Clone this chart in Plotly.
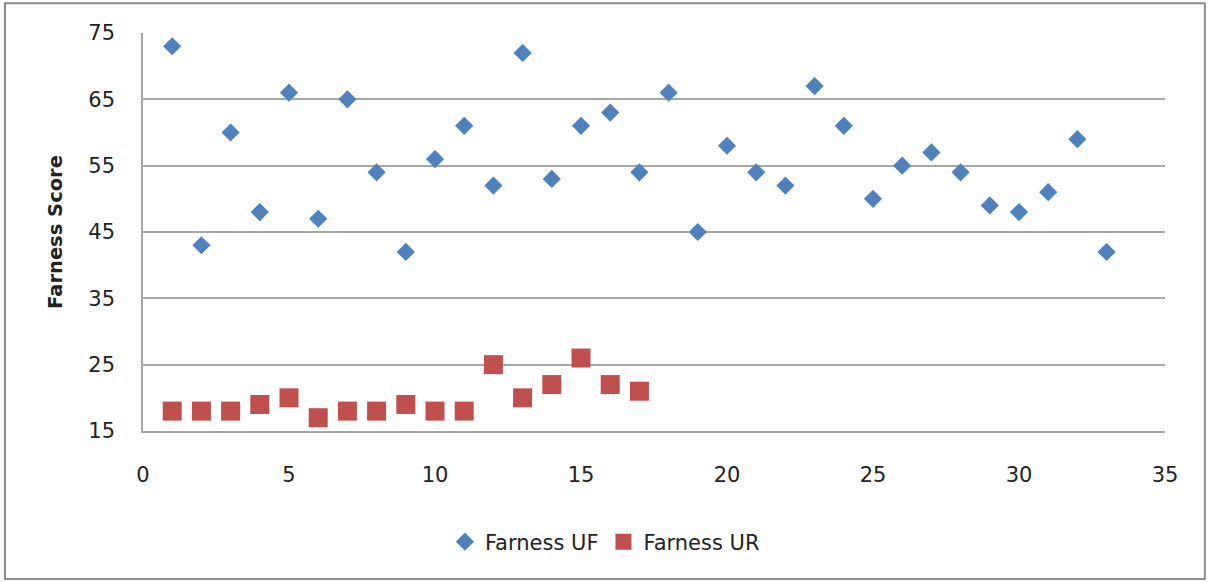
import plotly.graph_objects as go

# Farness scores per item
uf_x = list(range(1, 34))
uf_y = [73, 43, 60, 48, 66, 47, 65, 54, 42, 56, 61, 52, 72, 53, 61, 63, 54,
        66, 45, 58, 54, 52, 67, 61, 50, 55, 57, 54, 49, 48, 51, 59, 42]

ur_x = list(range(1, 18))
ur_y = [18, 18, 18, 19, 20, 17, 18, 18, 19, 18, 18, 25, 20, 22, 26, 22, 21]

x_ticks = [0, 5, 10, 15, 20, 25, 30, 35]
y_ticks = [15, 25, 35, 45, 55, 65, 75]

FONT = "'DejaVu Sans', sans-serif"
GRID = "#a6a6a6"

fig = go.Figure()
fig.add_trace(go.Scatter(
    x=uf_x, y=uf_y, mode="markers", name="Farness UF",
    marker=dict(symbol="diamond", size=14, color="#4F81BD",
                line=dict(width=0)),
))
fig.add_trace(go.Scatter(
    x=ur_x, y=ur_y, mode="markers", name="Farness UR",
    marker=dict(symbol="square", size=19, color="#C0504D",
                line=dict(width=0)),
))

# Outer chart frame
fig.add_shape(type="rect", xref="paper", yref="paper",
              x0=-0.135, x1=1.039, y0=-0.372, y1=1.075,
              line=dict(color="#8c8c8c", width=2), fillcolor="rgba(0,0,0,0)",
              layer="below")

fig.update_layout(
    width=1208, height=582,
    margin=dict(l=143, r=43, t=33, b=151),
    paper_bgcolor="white", plot_bgcolor="white",
    font=dict(family=FONT, size=21, color="#222222"),
    showlegend=True,
    legend=dict(orientation="h", x=0.452, xanchor="center", y=-0.279,
                yanchor="middle", font=dict(size=21), itemwidth=30,
                tracegroupgap=0),
    xaxis=dict(range=[0, 35], tickvals=x_ticks, showgrid=False, zeroline=False,
               showline=True, linecolor=GRID, linewidth=1.5,
               ticks="", ticklabelstandoff=24, fixedrange=True),
    yaxis=dict(range=[15, 75], tickvals=y_ticks, showgrid=True, gridcolor=GRID,
               gridwidth=1.5, zeroline=False, showline=True, linecolor=GRID,
               linewidth=1.5, ticks="", ticklabelstandoff=22,
               title=dict(text="<b>Farness Score</b>", font=dict(size=19.5),
                          standoff=20)),
)

fig.write_html("out.html")
